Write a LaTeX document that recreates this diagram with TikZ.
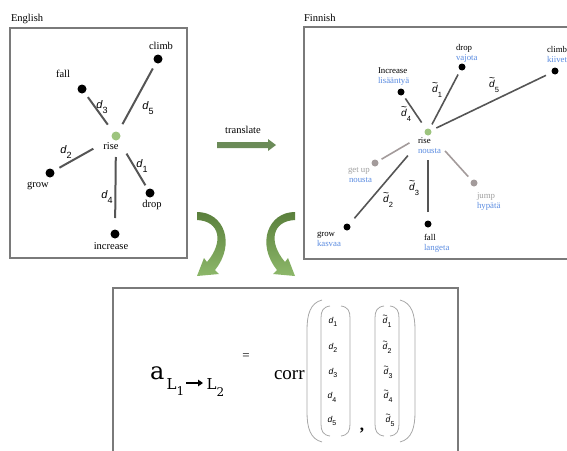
\documentclass[tikz,border=0pt]{standalone}
\usepackage{fontspec}
\setmainfont{Liberation Serif}
\newfontfamily\sansd{Liberation Sans}
\newfontfamily\formulafont{DejaVu Serif}
\usetikzlibrary{arrows.meta}

\definecolor{edgegray}{HTML}{555555}
\definecolor{softgray}{HTML}{A39B9B}
\definecolor{fiblue}{HTML}{5A8BE0}
\definecolor{labelgray}{HTML}{A0A0A0}
\definecolor{risegreen}{HTML}{9DC47E}
\definecolor{framegray}{HTML}{7A7A7A}
\definecolor{arrowgreen}{HTML}{6B8B58}
\definecolor{curvedark}{HTML}{5A7F3C}
\definecolor{curvelight}{HTML}{8DB86A}
\definecolor{bracketgray}{HTML}{A8A8A8}

% distance symbols: italic d with a lowered index, optionally with a tilde on top
\newcommand\dsub[2]{\raisebox{-0.45em}{\fontsize{#1}{#1}\selectfont #2}}
\newcommand\tildestack{\vbox{\offinterlineskip\halign{\hfil##\hfil\cr\textasciitilde\cr\noalign{\kern-0.15em}\itshape d\cr}}}
\newcommand\dplain[3]{{\sansd\fontsize{#1}{#1}\selectfont{\itshape d}\dsub{#2}{#3}}}
\newcommand\dtilde[3]{{\sansd\fontsize{#1}{#1}\selectfont\tildestack\dsub{#2}{#3}}}

\begin{document}
\begin{tikzpicture}[x=1pt,y=-1pt,
  every node/.style={inner sep=0pt,outer sep=0pt},
  frame/.style={draw=framegray,line width=1.3pt},
  title/.style={font=\fontsize{10.5}{10.5}\selectfont,anchor=base west},
  enword/.style={font=\fontsize{10.5}{10.5}\selectfont,anchor=base},
  fiword/.style={font=\fontsize{8.8}{8.8}\selectfont,anchor=base west},
  fitrans/.style={fiword,text=fiblue},
  figray/.style={fiword,text=labelgray},
  bigdot/.style={circle,fill=black,minimum size=9pt},
  bigroot/.style={circle,fill=risegreen,minimum size=9pt},
  smalldot/.style={circle,fill=black,minimum size=7pt},
  smallroot/.style={circle,fill=risegreen,minimum size=7pt},
  greydot/.style={circle,fill=softgray,minimum size=7pt},
  enedge/.style={draw=edgegray,line width=2pt},
  fiedge/.style={draw=edgegray,line width=1.6pt},
  softedge/.style={draw=softgray,line width=1.6pt},
  bracket/.style={draw=bracketgray,line width=0.8pt},
  formula/.style={anchor=base west,font=\formulafont\fontsize{#1}{#1}\selectfont},
  curvearrow/.style={top color=curvedark,bottom color=curvelight,draw=none}]
\useasboundingbox (0,0) rectangle (567,450);

% ---------------- frames ----------------
\draw[frame] (10,28) rectangle (187,258);
\draw[frame] (572,27) -- (304,27) -- (304,259) -- (572,259);
\draw[frame] (113,462) -- (113,288) -- (458,288) -- (458,462);

\node[title] (entitle) at (11,21) {English};
\node[title] (fititle) at (304,21) {Finnish};

% ---------------- English space ----------------
\node[bigroot] (erise)  at (116,136) {};
\node[bigdot]  (eclimb) at (158,59)  {};
\node[bigdot]  (efall)  at (82,89)   {};
\node[bigdot]  (egrow)  at (50,173)  {};
\node[bigdot]  (edrop)  at (150,193) {};
\node[bigdot]  (eincr)  at (115,234) {};

\node[enword] (lclimb) at (161,49)  {climb};
\node[enword] (lfall)  at (63,77)   {fall};
\node[enword] (lrise)  at (111,149) {rise};
\node[enword] (lgrow)  at (38,187)  {grow};
\node[enword] (ldrop)  at (152,207) {drop};
\node[enword] (lincr)  at (111,249) {increase};

\draw[enedge,shorten <=5.5pt,shorten >=9.5pt] (efall) -- (erise);
\draw[enedge,shorten <=6.3pt,shorten >=9pt] (eclimb) -- (erise);
\draw[enedge,shorten <=6.3pt,shorten >=21.5pt] (egrow) -- (erise);
\draw[enedge,shorten <=4.5pt,shorten >=16pt] (edrop) -- (erise);
\draw[enedge,shorten <=11.5pt,shorten >=16.5pt] (eincr) -- (erise);

\node (ed3) at (102,107) {\dplain{11}{9}{3}};
\node (ed5) at (148,108) {\dplain{11}{9}{5}};
\node (ed2) at (66,152)  {\dplain{11}{9}{2}};
\node (ed1) at (142,166) {\dplain{11}{9}{1}};
\node (ed4) at (107,197) {\dplain{11}{9}{4}};

% ---------------- translate arrow ----------------
\fill[arrowgreen] (217,142) -- (268,142) -- (268,139) -- (276,145) -- (268,151)
  -- (268,148) -- (217,148) -- cycle;
\node[anchor=base,font=\fontsize{10.5}{10.5}\selectfont] (ltrans) at (243,133) {translate};

% ---------------- Finnish space ----------------
\node[smallroot] (frise)  at (428,132) {};
\node[smalldot]  (fincr)  at (401,92)  {};
\node[smalldot]  (fdrop)  at (462,67)  {};
\node[smalldot]  (fclimb) at (555,71)  {};
\node[greydot]   (fgetup) at (375,163) {};
\node[greydot]   (fjump)  at (474,183) {};
\node[smalldot]  (fgrow)  at (347,227) {};
\node[smalldot]  (ffall)  at (428,224) {};

\node[fiword]  (tincr)  at (378,73)  {Increase};
\node[fitrans] (uincr)  at (378,83)  {lisääntyä};
\node[fiword]  (tdrop)  at (456,50)  {drop};
\node[fitrans] (udrop)  at (456,60)  {vajota};
\node[fiword]  (tclimb) at (547,52)  {climb};
\node[fitrans] (uclimb) at (547,62)  {kiivetä};
\node[fiword]  (trise)  at (418,143) {rise};
\node[fitrans] (urise)  at (418,153) {nousta};
\node[figray]  (tgetup) at (348,172) {get up};
\node[fitrans] (ugetup) at (349,182) {nousta};
\node[figray]  (tjump)  at (477,198) {jump};
\node[fitrans] (ujump)  at (477,208) {hypätä};
\node[fiword]  (tgrow)  at (317,236) {grow};
\node[fitrans] (ugrow)  at (317,246) {kasvaa};
\node[fiword]  (tfall)  at (424,240) {fall};
\node[fitrans] (ufall)  at (424,250) {langeta};

\draw[fiedge,shorten <=4.3pt,shorten >=7.9pt] (fincr) -- (frise);
\draw[fiedge,shorten <=5pt,shorten >=5.1pt] (fdrop) -- (frise);
\draw[fiedge,shorten <=6.5pt,shorten >=5.7pt] (fclimb) -- (frise);
\draw[softedge,shorten <=4.1pt,shorten >=18pt] (fgetup) -- (frise);
\draw[fiedge,shorten <=7.9pt,shorten >=27.5pt] (fgrow) -- (frise);
\draw[fiedge,shorten <=8.5pt,shorten >=24.5pt] (ffall) -- (frise);
\draw[softedge,shorten <=5.1pt,shorten >=22pt] (fjump) -- (frise);

\node (fd4) at (406,114) {\dtilde{10}{7.5}{4}};
\node (fd1) at (437,90)  {\dtilde{10}{7.5}{1}};
\node (fd5) at (494,85)  {\dtilde{10}{7.5}{5}};
\node (fd2) at (388,200) {\dtilde{10}{7.5}{2}};
\node (fd3) at (414,188) {\dtilde{10}{7.5}{3}};

% ---------------- curved arrows ----------------
\shade[curvearrow] (197,212) .. controls (224,212) and (236,244) .. (215,270)
  -- (219,274) -- (197,276) -- (204,258) -- (207,262)
  .. controls (224,242) and (220,221) .. (197,220) -- cycle;
\shade[curvearrow] (295,212) .. controls (268,212) and (256,244) .. (277,270)
  -- (273,274) -- (295,276) -- (288,258) -- (285,262)
  .. controls (268,242) and (272,221) .. (295,220) -- cycle;

% ---------------- alignment formula ----------------
\node[formula=24] (fa)  at (150,379) {a};
\node[formula=15] (fl1) at (166.5,389) {L};
\node[formula=12] (fn1) at (176.5,395) {1};
\node[formula=15] (fl2) at (206.5,389) {L};
\node[formula=12] (fn2) at (216.5,396) {2};
\coordinate (arrfrom) at (186,383);
\coordinate (arrto) at (203,383);
\draw[line width=2pt,-{Triangle[length=5pt,width=6.5pt]}] (arrfrom) -- (arrto);
\node[font=\fontsize{13}{13}\selectfont] (feq) at (246,357) {=};
\node[anchor=base west,font=\fontsize{19}{19}\selectfont] (fcorr) at (274,379) {corr};

% outer parentheses
\draw[bracket] (322,300) .. controls (310,303) and (307,315) .. (307,330) -- (307,412)
  .. controls (307,427) and (310,439) .. (322,442);
\draw[bracket] (400,300) .. controls (412,303) and (415,315) .. (415,330) -- (415,412)
  .. controls (415,427) and (412,439) .. (400,442);
% inner brackets of the two columns
\draw[bracket] (330,306) .. controls (323,307) and (321,311) .. (321,318) -- (321,424)
  .. controls (321,431) and (323,435) .. (330,436);
\draw[bracket] (341,306) .. controls (348,307) and (350,311) .. (350,318) -- (350,424)
  .. controls (350,431) and (348,435) .. (341,436);
\draw[bracket] (384,306) .. controls (377,307) and (375,311) .. (375,318) -- (375,424)
  .. controls (375,431) and (377,435) .. (384,436);
\draw[bracket] (390,306) .. controls (397,307) and (399,311) .. (399,318) -- (399,424)
  .. controls (399,431) and (397,435) .. (390,436);

\node (m1) at (333,322) {\dplain{8.5}{7}{1}};
\node (m2) at (333,348) {\dplain{8.5}{7}{2}};
\node (m3) at (333,373) {\dplain{8.5}{7}{3}};
\node (m4) at (332,397) {\dplain{8.5}{7}{4}};
\node (m5) at (332,421) {\dplain{8.5}{7}{5}};
\node (n1) at (387,321) {\dtilde{8.5}{7}{1}};
\node (n2) at (387,347) {\dtilde{8.5}{7}{2}};
\node (n3) at (388,372) {\dtilde{8.5}{7}{3}};
\node (n4) at (388,396) {\dtilde{8.5}{7}{4}};
\node (n5) at (390,420) {\dtilde{8.5}{7}{5}};
\node[font=\bfseries\fontsize{17}{17}\selectfont] (comma) at (362,431) {,};
\end{tikzpicture}
\end{document}
